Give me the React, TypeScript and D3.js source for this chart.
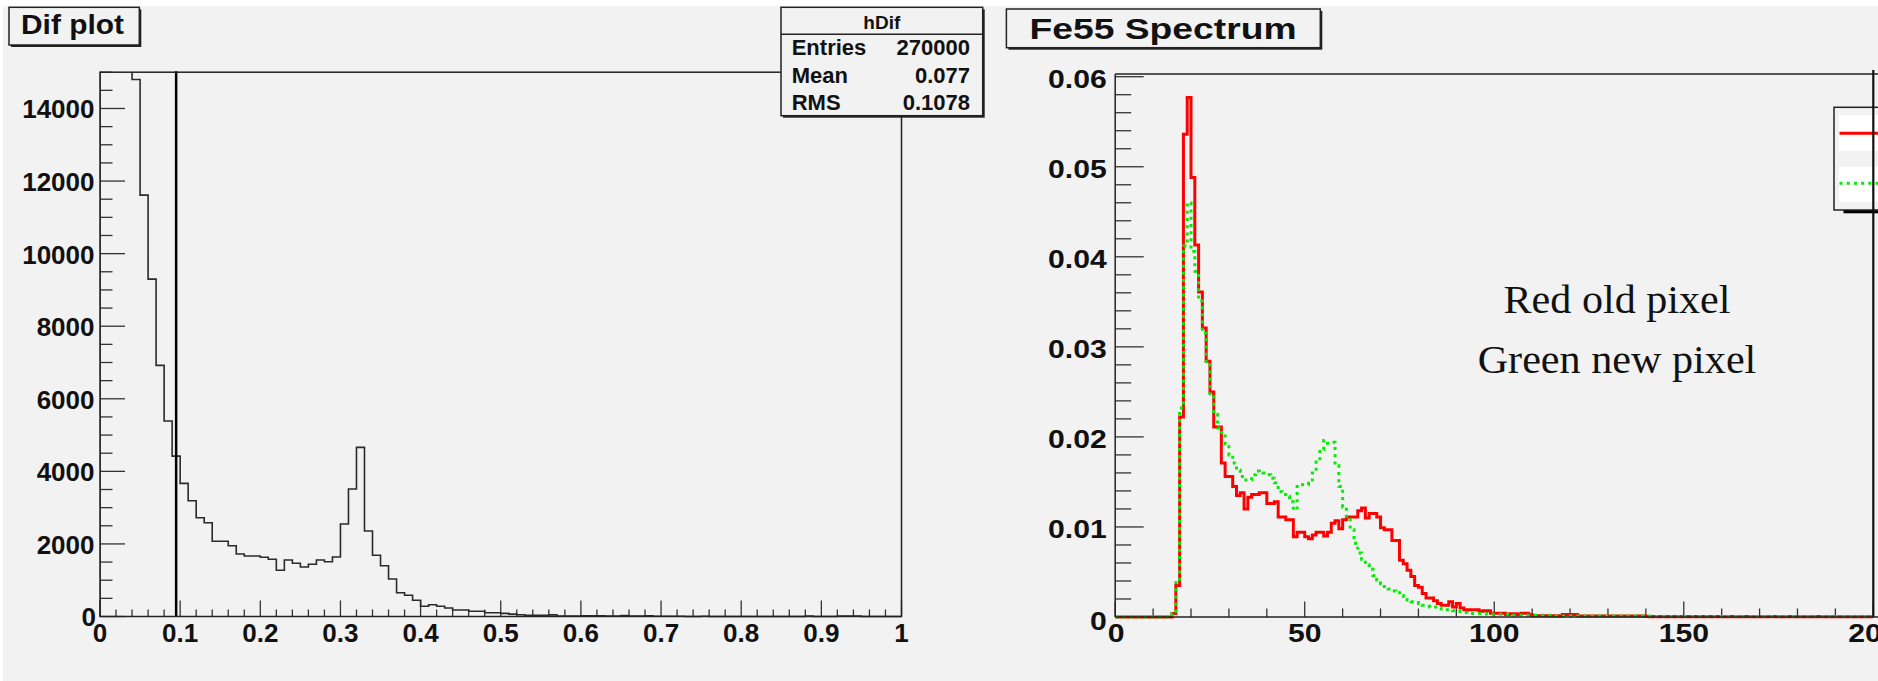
import React from 'react';
import * as d3 from 'd3';

// ---------- "Dif plot" : hDif, 100 bins on [0, 1] ----------
const difBinWidth = 0.01;
const difCounts = [
  30000, 45000, 48000, 35000, 14800, 11612, 9298, 6920, 5386, 4421,
  3669, 3190, 2722, 2584, 2072, 2072, 1950, 1722, 1667, 1667,
  1631, 1576, 1273, 1556, 1466, 1364, 1438, 1556, 1510, 1639,
  2548, 3512, 4661, 2355, 1686, 1399, 1033, 656, 584, 446,
  281, 325, 281, 234, 179, 179, 143, 143, 105, 105,
  85, 65, 50, 30, 30, 30, 45, 15, 15, 15,
  20, 20, 20, 10, 10, 25, 10, 10, 20, 5,
  5, 5, 5, 0, 0, 5, 0, 0, 0, 0,
  0, 0, 0, 0, 0, 0, 0, 0, 15, 0,
  0, 0, 15, 10, 15, 0, 0, 0, 0, 0,
];
const difCut = 0.095;
const difYTicks = [0, 2000, 4000, 6000, 8000, 10000, 12000, 14000];
const difXTicks = [0, 0.1, 0.2, 0.3, 0.4, 0.5, 0.6, 0.7, 0.8, 0.9, 1];
const difXLabels = ['0', '0.1', '0.2', '0.3', '0.4', '0.5', '0.6', '0.7', '0.8', '0.9', '1'];
const statsName = 'hDif';
const statsLabels = ['Entries', 'Mean', 'RMS'];
const statsValues = ['270000', '0.077', '0.1078'];

// ---------- "Fe55 Spectrum" : 200 bins on [0, 200] ----------
const feBinWidth = 1;
const feOld = [
  0, 0, 0, 0, 0, 0, 0, 0, 0, 0, 0, 0, 0, 0, 0,
  0.0004, 0.0035, 0.0222, 0.0536, 0.0577, 0.0488, 0.0413, 0.0361, 0.0321, 0.0284,
  0.0250, 0.0211, 0.0211, 0.0171, 0.0156, 0.0156, 0.0145, 0.0135, 0.0138, 0.0120,
  0.0133, 0.0136, 0.0136, 0.0138, 0.0138, 0.0126, 0.0126, 0.0128, 0.0111, 0.0111,
  0.0108, 0.0108, 0.0089, 0.0094, 0.0094, 0.0089, 0.0087, 0.0091, 0.0094, 0.0094,
  0.0090, 0.0094, 0.0104, 0.0107, 0.0098, 0.0108, 0.0111, 0.0111, 0.0111, 0.0118,
  0.0121, 0.0110, 0.0115, 0.0115, 0.0111, 0.0099, 0.0097, 0.0097, 0.0085, 0.0085,
  0.0063, 0.0059, 0.0052, 0.0045, 0.0035, 0.0033, 0.0026, 0.0021, 0.0021, 0.0018,
  0.0015, 0.0013, 0.0013, 0.0017, 0.0011, 0.0015, 0.0010, 0.0008, 0.0008, 0.0008,
  0.0008, 0.00065, 0.0007, 0.0007, 0.00043, 0.00043, 0.00043, 0.00043, 0.00028, 0.00035,
  0.00035, 0.00028, 0.00043, 0.00043, 0.00028,
  0.00013, 0.00013, 0.00013, 0.00013, 0.00013, 0.00013, 0.00013, 0.00013,
  0.00028, 0.00028, 0.00028, 0.00028,
  0.0001, 0.0001, 0.0001, 0.0001, 0.0001, 0.0001, 0.0001, 0.0001, 0.0001,
  0.0001, 0.0001, 0.0001, 0.0001, 0.0001, 0.0001, 0.0001, 0.0001, 0.0001,
  0.00005, 0.00004, 0.00005, 0.00004, 0.00005, 0.00004, 0.00005, 0.00004, 0.00005, 0.00004,
  0.00005, 0.00004, 0.00005, 0.00004, 0.00005, 0.00004, 0.00005, 0.00004, 0.00005, 0.00004,
  0.00004, 0.00004, 0.00005, 0.00004, 0.00004, 0.00004, 0.00005, 0.00004, 0.00004, 0.00004,
  0.00004, 0.00004, 0.00004, 0.00005, 0.00004, 0.00004, 0.00004, 0.00004, 0.00005, 0.00004,
  0.00004, 0.00004, 0.00004, 0.00004, 0.00004, 0.00005, 0.00004, 0.00004, 0.00004, 0.00004,
  0.00004, 0.00004, 0.00004, 0.00004, 0.00004, 0.00004, 0.00004, 0.00004, 0.00004, 0.00004,
];
const feNew = [
  0, 0, 0, 0, 0, 0, 0, 0, 0, 0, 0, 0, 0, 0, 0,
  0.0004, 0.0038, 0.0232, 0.0412, 0.0460, 0.0406, 0.0384, 0.0351, 0.0315, 0.0280,
  0.0248, 0.0225, 0.0210, 0.0205, 0.0192, 0.0180, 0.0171, 0.0163, 0.0156, 0.0152,
  0.0152, 0.0158, 0.0162, 0.0161, 0.0160, 0.0158, 0.0154, 0.0149, 0.0139, 0.0136,
  0.0134, 0.0128, 0.0119, 0.0145, 0.0147, 0.0147, 0.0152, 0.0160, 0.0172, 0.0186,
  0.0196, 0.0193, 0.0194, 0.0168, 0.0145, 0.0122, 0.0108, 0.0097, 0.0082, 0.0071,
  0.0064, 0.0058, 0.0053, 0.0046, 0.0041, 0.0037, 0.0034, 0.0031, 0.0029, 0.0027,
  0.0024, 0.0021, 0.0019, 0.0017, 0.0016, 0.0015, 0.0013, 0.0012, 0.0011, 0.0011,
  0.0010, 0.0009, 0.0008, 0.0008, 0.0007, 0.0006, 0.0006, 0.0005,
  0.0004, 0.0004, 0.0004, 0.0004, 0.0004,
  0.0003, 0.0003, 0.0003, 0.0003, 0.0003, 0.0003,
  0.0002, 0.0002, 0.0002, 0.0002, 0.0002, 0.0002, 0.0002, 0.0002, 0.0002, 0.0002, 0.0002, 0.0002,
  0.0001, 0.0001, 0.0001, 0.0001, 0.0001, 0.0001, 0.0001, 0.0001, 0.0001, 0.0001,
  0.0001, 0.0001, 0.0001, 0.0001, 0.0001, 0.0001, 0.0001, 0.0001, 0.0001, 0.0001,
  0.0001, 0.0001, 0.0001, 0.0001, 0.0001,
  0.00005, 0.00005, 0.00005, 0.00005, 0.00005, 0.00005, 0.00005, 0.00005, 0.00005, 0.00005,
  0.00005, 0.00005, 0.00005, 0.00005, 0.00005, 0.00005, 0.00005, 0.00005, 0.00005, 0.00005,
  0.00005, 0.00005, 0.00005, 0.00005, 0.00005, 0.00005, 0.00005, 0.00005, 0.00005, 0.00005,
  0.00005, 0.00005, 0.00005, 0.00005, 0.00005, 0.00005, 0.00005, 0.00005, 0.00005, 0.00005,
  0.00005, 0.00005, 0.00005, 0.00005, 0.00005, 0.00005, 0.00005, 0.00005, 0.00005, 0.00005,
  0.00005, 0.00005, 0.00005, 0.00005, 0.00005, 0.00005, 0.00005, 0.00005, 0.00005,
];
const feYTicks = [0, 0.01, 0.02, 0.03, 0.04, 0.05, 0.06];
const feYLabels = ['0', '0.01', '0.02', '0.03', '0.04', '0.05', '0.06'];
const feXTicks = [0, 50, 100, 150, 200];
const feXLabels = ['0', '50', '100', '150', '200'];
const noteLines = ['Red old pixel', 'Green new pixel'];

const W = 1878;
const H = 681;
const BG = '#f2f2f2';
const INK = '#222';
const SANS = '"Liberation Sans", Arial, Helvetica, sans-serif';
const SERIF = '"Liberation Serif", "Times New Roman", serif';

type Pt = [number, number];

function stepPath(
  values: number[],
  bw: number,
  x: d3.ScaleLinear<number, number>,
  y: d3.ScaleLinear<number, number>,
) {
  const pts: Pt[] = [[0, 0]];
  values.forEach((v, i) => pts.push([i * bw, v]));
  pts.push([values.length * bw, values[values.length - 1]]);
  pts.push([values.length * bw, 0]);
  return d3
    .line<Pt>()
    .x((d) => x(d[0]))
    .y((d) => y(d[1]))
    .curve(d3.curveStepAfter)(pts) as string;
}

function TitleBox({ x, y, w, h, text, tx, tw, ty, size }: any) {
  return (
    <g>
      <rect x={x + 2} y={y + 2} width={w} height={h} fill={INK} />
      <rect x={x} y={y} width={w} height={h} fill={BG} stroke={INK} strokeWidth={1.5} />
      <text x={tx} y={ty} fontFamily={SANS} fontWeight="bold" fontSize={size} fill="#111"
        textLength={tw} lengthAdjust="spacingAndGlyphs">{text}</text>
    </g>
  );
}

export default function App() {
  // Left frame
  const L = { left: 100, right: 901.5, top: 72.2, bottom: 616.5 };
  const dx = d3.scaleLinear().domain([0, 1]).range([L.left, L.right]);
  const dy = d3.scaleLinear().domain([0, 15000]).range([L.bottom, L.top]);

  // Right frame
  const R = { left: 1115.2, right: 1873.3, top: 74, bottom: 617 };
  const fx = d3.scaleLinear().domain([0, 200]).range([R.left, R.right]);
  const fy = d3.scaleLinear().domain([0, 0.0603]).range([R.bottom, R.top]);

  const difPath = stepPath(difCounts, difBinWidth, dx, dy);
  const oldPath = stepPath(feOld, feBinWidth, fx, fy);
  const newPath = stepPath(feNew, feBinWidth, fx, fy);

  const tickStroke = '#333';
  const stretch = 1.16;

  return (
    <svg width={W} height={H} viewBox={`0 0 ${W} ${H}`}
      style={{ position: 'absolute', left: 0, top: 0, display: 'block' }}>
      <defs>
        <clipPath id="clipDif">
          <rect x={L.left} y={L.top} width={L.right - L.left} height={L.bottom - L.top + 2} />
        </clipPath>
        <clipPath id="clipFe">
          <rect x={R.left} y={R.top} width={R.right - R.left} height={R.bottom - R.top + 2} />
        </clipPath>
      </defs>
      <rect x={0} y={0} width={W} height={H} fill="#fff" />
      <rect x={3} y={6} width={W - 3} height={H - 6} fill={BG} />

      {/* ===== Dif plot ===== */}
      <g>
        {/* y axis ticks */}
        {dy.ticks(30).map((t) => {
          const major = difYTicks.includes(t);
          return <line key={`dym${t}`} x1={L.left} x2={L.left + (major ? 25 : 12.5)} y1={dy(t)} y2={dy(t)}
            stroke={tickStroke} strokeWidth={1.3} />;
        })}
        {difYTicks.map((t) => (
          <text key={`dyl${t}`} x={t === 0 ? 96 : 94.5} y={dy(t) + (t === 0 ? 9.5 : 10)} textAnchor="end"
            fontFamily={SANS} fontWeight="bold" fontSize={26} fill="#111">{String(t)}</text>
        ))}
        {/* x axis ticks */}
        {dx.ticks(50).map((t) => {
          const major = difXTicks.some((m) => Math.abs(m - t) < 1e-9);
          return <line key={`dxm${t}`} x1={dx(t)} x2={dx(t)} y1={L.bottom} y2={L.bottom - (major ? 16 : 7)}
            stroke={tickStroke} strokeWidth={1.3} />;
        })}
        {difXTicks.map((t, i) => (
          <text key={`dxl${t}`} x={dx(t)} y={641.5} textAnchor="middle"
            fontFamily={SANS} fontWeight="bold" fontSize={26} fill="#111">{difXLabels[i]}</text>
        ))}

        <path d={difPath} fill="none" stroke="#2a2a2a" strokeWidth={1.6} clipPath="url(#clipDif)" />
        <line x1={dx(difCut)} x2={dx(difCut)} y1={dy(0)} y2={L.top - 1} stroke="#000" strokeWidth={2.5} />

        <rect x={L.left} y={L.top} width={L.right - L.left} height={L.bottom - L.top}
          fill="none" stroke={INK} strokeWidth={1.5} />

        {/* statistics box */}
        <rect x={783} y={9.3} width={201.7} height={108.4} fill={INK} />
        <rect x={781} y={7.3} width={201.7} height={108.4} fill={BG} stroke={INK} strokeWidth={1.5} />
        <line x1={781} x2={982.7} y1={34.3} y2={34.3} stroke={INK} strokeWidth={1.5} />
        <text x={881.8} y={29.3} textAnchor="middle" fontFamily={SANS} fontWeight="bold" fontSize={19}
          fill="#111">{statsName}</text>
        {statsLabels.map((lab, i) => (
          <g key={lab}>
            <text x={791.7} y={55 + i * 27.5} fontFamily={SANS} fontWeight="bold" fontSize={22} fill="#111">{lab}</text>
            <text x={970} y={55 + i * 27.5} textAnchor="end" fontFamily={SANS} fontWeight="bold" fontSize={22}
              fill="#111">{statsValues[i]}</text>
          </g>
        ))}

        <TitleBox x={9} y={7.3} w={130.3} h={37.7} text="Dif plot" tx={21} tw={103} ty={34.3} size={27} />
      </g>

      {/* ===== Fe55 Spectrum ===== */}
      <g>
        {fy.ticks(30).map((t) => {
          const major = feYTicks.some((m) => Math.abs(m - t) < 1e-9);
          return <line key={`fym${t}`} x1={R.left} x2={R.left + (major ? 28.5 : 16)} y1={fy(t)} y2={fy(t)}
            stroke={tickStroke} strokeWidth={1.3} />;
        })}
        {feYTicks.map((t, i) => (
          <text key={`fyl${t}`} transform={`translate(${1106.7},${fy(t) + (t === 0 ? 12.5 : 11.5)}) scale(${stretch},1)`}
            textAnchor="end" fontFamily={SANS} fontWeight="bold" fontSize={26} fill="#111">{feYLabels[i]}</text>
        ))}
        {fx.ticks(20).map((t) => {
          const major = feXTicks.includes(t);
          return <line key={`fxm${t}`} x1={fx(t)} x2={fx(t)} y1={R.bottom} y2={R.bottom - (major ? 15.5 : 8.5)}
            stroke={tickStroke} strokeWidth={1.3} />;
        })}
        {feXTicks.map((t, i) => (
          <text key={`fxl${t}`} transform={`translate(${fx(t) + (t === 0 ? 1 : 0)},${641.5}) scale(${stretch},1)`}
            textAnchor="middle" fontFamily={SANS} fontWeight="bold" fontSize={26} fill="#111">{feXLabels[i]}</text>
        ))}

        <path d={oldPath} fill="none" stroke="#ff0000" strokeWidth={3} clipPath="url(#clipFe)" />
        <path d={newPath} fill="none" stroke="#00ee00" strokeWidth={3} strokeDasharray="3 4.2"
          clipPath="url(#clipFe)" />

        <line x1={R.left} x2={R.left} y1={R.top} y2={R.bottom} stroke={INK} strokeWidth={1.5} />
        <line x1={R.left} x2={W} y1={R.top} y2={R.top} stroke={INK} strokeWidth={1.5} />
        <line x1={R.left} x2={W} y1={R.bottom} y2={R.bottom} stroke={INK} strokeWidth={1.5} />

        {/* legend (runs off the right edge) */}
        <rect x={1843.5} y={110} width={60} height={103.3} fill="#000" />
        <rect x={1834} y={107.3} width={60} height={102.7} fill={BG} stroke={INK} strokeWidth={1.5} />
        <rect x={1839} y={115} width={50} height={35.7} fill="#fff" />
        <rect x={1839} y={166.7} width={50} height={35} fill="#fff" />
        <line x1={1839.5} x2={W} y1={133.3} y2={133.3} stroke="#ff0000" strokeWidth={3} />
        <line x1={1839.5} x2={W} y1={183.3} y2={183.3} stroke="#00ee00" strokeWidth={3} strokeDasharray="3 4.2" />

        <line x1={R.right} x2={R.right} y1={R.top - 4} y2={R.bottom} stroke="#111" strokeWidth={2.2} />

        {noteLines.map((s, i) => (
          <text key={s} x={1617} y={312.7 + i * 60.6} textAnchor="middle" fontFamily={SERIF} fontSize={40}
            fill="#111" textLength={i === 0 ? 227 : 278.7} lengthAdjust="spacingAndGlyphs">{s}</text>
        ))}

        <TitleBox x={1006.4} y={9} w={313.9} h={38.7} text="Fe55 Spectrum" tx={1029.5} tw={267}
          ty={39.3} size={29} />
      </g>
    </svg>
  );
}
